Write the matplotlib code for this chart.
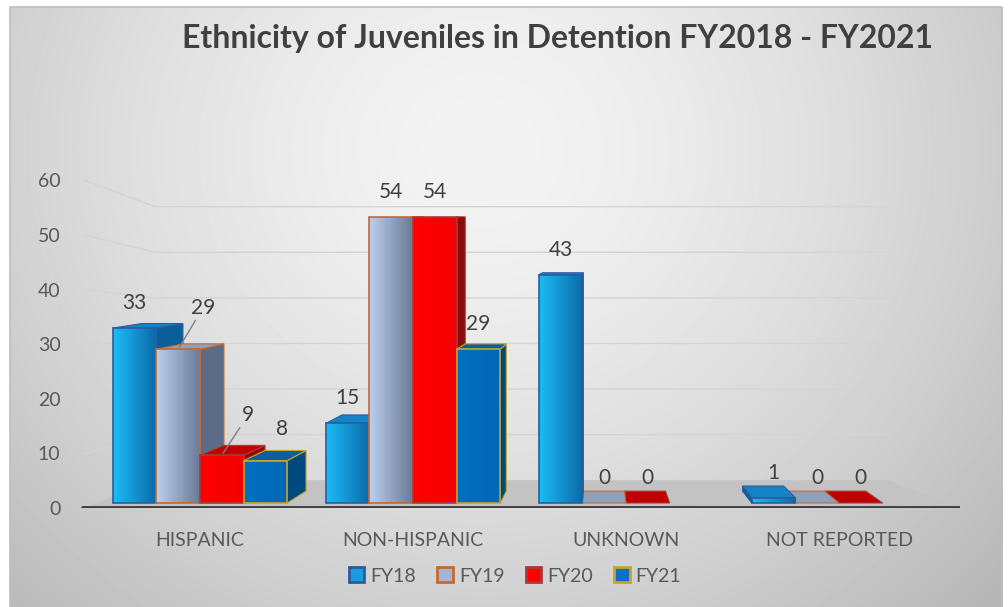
import numpy as np
import matplotlib.pyplot as plt
from matplotlib.patches import Rectangle, Polygon, Patch
from matplotlib.colors import LinearSegmentedColormap

# data
categories = ['HISPANIC', 'NON-HISPANIC', 'UNKNOWN', 'NOT REPORTED']
series = ['FY18', 'FY19', 'FY20', 'FY21']
fy18 = [33, 15, 43, 1]
fy19 = [29, 54, 0, 0]
fy20 = [9, 54, 0, 0]
fy21 = [8, 29, np.nan, np.nan]
yticks = [0, 10, 20, 30, 40, 50, 60]
title = 'Ethnicity of Juveniles in Detention FY2018 - FY2021'

plt.rcParams['font.family'] = ['Lato', 'DejaVu Sans']

W, H = 1008, 607
fig = plt.figure(figsize=(W / 100, H / 100), dpi=100)

# grey gradient panel behind the chart
bg = fig.add_axes([0, 0, 1, 1], zorder=-10)
yy, xx = np.mgrid[0:H, 0:W]
r = np.sqrt(((xx - 480) / 560.0) ** 2 + ((yy - 150) / 520.0) ** 2)
shade = 0.955 - 0.17 * r ** 1.5
img = np.ones((H, W))
inside = (xx >= 10) & (xx <= 1002) & (yy >= 7)
img[inside] = shade[inside]
bg.imshow(img, cmap='gray', vmin=0, vmax=1, extent=[0, W, H, 0],
          aspect='auto', interpolation='bilinear')
bg.plot([10, 10, 1002, 1002], [H, 7, 7, H], color='#bdbdbd', lw=1.2)
bg.set_xlim(0, W)
bg.set_ylim(H, 0)
bg.axis('off')

ax = fig.add_axes([80 / W, (H - 508.3) / H, 880 / W, 336.6 / H])
ax.patch.set_alpha(0)
xlo, xhi = -0.563, 3.568
ylo, yhi = -1.0, 62.5


# fake perspective: front wall, back wall, bar depth
def front(t):
    return -0.95 + 1.03 * t


def back(t):
    return 4.3 + 0.86 * t


def dx(x):
    return 0.06 * (1.88 - x)


def dy(t):
    return 0.042 * (53.4 - t)


fl, fr, bl, br = -0.549, 3.568, -0.211, 3.23

# walls gridlines + floor
for t in yticks[1:]:
    ax.plot([fl + 0.01, bl, br], [front(t), back(t), back(t)],
            color='#d4d4d4', lw=1, zorder=0.5)
ax.add_patch(Polygon([(fl, front(0)), (fr, front(0)), (br, back(0)), (bl, back(0))],
                     closed=True, facecolor='#c3c3c3', edgecolor='none', zorder=1))
ax.plot([fl, fr], [front(0), front(0)], color='#3f3f3f', lw=2.8,
        solid_capstyle='round', zorder=2)

face_l = ['#1cbcf7', '#bccfee', '#ff0000', '#0070c0']
face_r = ['#0b6aa8', '#6b7b98', '#f40000', '#0068b5']
side_c = ['#0a5f99', '#5d6c86', '#8c0a0a', '#00497f']
top_c = ['#1682c6', '#8fa0bd', '#c00000', '#0b5fa0']
edge_c = ['#2b5d9e', '#c5692f', '#a83a3a', '#c9a227']
legend_c = ['#1a9ae0', '#a3b4d6', '#ff0000', '#0a70c0']

# moved labels (as in the source chart): (series, category) -> offset in points
moved = {(1, 0): (18, 12), (2, 0): (19, 11), (3, 0): (12, 5)}

values = [fy18, fy19, fy20, fy21]
bw = 0.205
for i in range(len(categories)):
    order = range(4) if dx(i) > 0 else range(3, -1, -1)
    z = 3
    for k in order:
        t = values[k][i]
        if np.isnan(t):
            continue
        x0 = i + (k - 2) * bw
        x1 = x0 + bw
        d0, d1, e, e0 = dx(x0), dx(x1), dy(t), dy(0)
        if d1 > 0:
            side = [(x1, 0), (x1 + d1, e0), (x1 + d1, t + e), (x1, t)]
        else:
            side = [(x0, 0), (x0 + d0, e0), (x0 + d0, t + e), (x0, t)]
        ax.add_patch(Polygon(side, closed=True, facecolor=side_c[k],
                             edgecolor=edge_c[k], lw=0.8, zorder=z))
        if e > 0:
            top = [(x0, t), (x1, t), (x1 + d1, t + e), (x0 + d0, t + e)]
            ax.add_patch(Polygon(top, closed=True, facecolor=top_c[k],
                                 edgecolor=edge_c[k], lw=0.8, zorder=z + 0.1))
        if t > 0:
            cmap = LinearSegmentedColormap.from_list('g', [face_l[k], face_r[k]])
            im = ax.imshow(np.linspace(0, 1, 64)[None, :], cmap=cmap, aspect='auto',
                           extent=[x0, x1, 0, t], zorder=z + 0.2, interpolation='bilinear')
            clip = Rectangle((x0, 0), bw, t, transform=ax.transData)
            im.set_clip_path(clip)
            ax.add_patch(Rectangle((x0, 0), bw, t, fill=False, edgecolor=edge_c[k],
                                   lw=1.2, zorder=z + 0.3))
        z += 1

        xc = x0 + bw / 2
        off = moved.get((k, i), (0, 0))
        kw = {}
        if (k, i) in moved and off[0] > 15:
            kw['arrowprops'] = dict(arrowstyle='-', color='#7f7f7f', lw=1,
                                    shrinkA=0, shrinkB=2)
        ax.annotate(f'{int(t)}', (xc, t), xytext=(off[0], 18 + off[1]),
                    textcoords='offset points', ha='center', va='center',
                    fontsize=15, color='#404040', zorder=20, **kw)

ax.set_xlim(xlo, xhi)
ax.set_ylim(ylo, yhi)
ax.set_xticks(range(len(categories)))
ax.set_xticklabels(categories)
ax.set_yticks([front(t) for t in yticks])
ax.set_yticklabels([str(t) for t in yticks])
ax.tick_params(axis='x', length=0, pad=17, labelsize=14, labelcolor='#595959')
ax.tick_params(axis='y', length=0, pad=14, labelsize=14, labelcolor='#595959')
for s in ax.spines.values():
    s.set_visible(False)

handles = [Patch(facecolor=legend_c[k], edgecolor=edge_c[k], lw=2) for k in range(4)]
fig.legend(handles, series, loc='center', bbox_to_anchor=(0.511, 0.051), ncol=4,
           frameon=False, fontsize=14, handlelength=0.8, handleheight=0.8,
           handletextpad=0.3, columnspacing=1.1, labelcolor='#595959')

fig.text(0.553, 0.937, title, ha='center', va='center', fontsize=23,
         fontweight='bold', color='#404040')

fig.savefig('out.png', dpi=100)
